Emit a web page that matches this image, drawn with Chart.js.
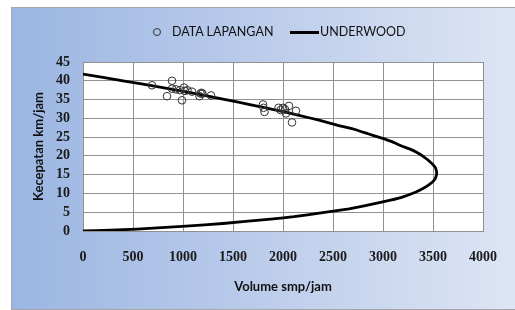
<!DOCTYPE html>
<html>
<head>
<meta charset="utf-8">
<script src="https://cdn.jsdelivr.net/npm/chart.js@4.4.0/dist/chart.umd.min.js"></script>
<style>
  html, body { margin: 0; padding: 0; background: #ffffff; }
  body { width: 515px; height: 310px; position: relative; overflow: hidden; }
  #frame {
    position: absolute; left: 11px; top: 7px; width: 520px; height: 301px;
    border: 1px solid #a6a6a6;
    background: linear-gradient(to right, #9bb6e2 0%, #bdcdeb 50%, #e0e7f5 100%);
  }
  #wrap { position: absolute; left: 0; top: 0; width: 515px; height: 310px; }
  #legend {
    position: absolute; left: 0; top: 24px; width: 515px; height: 18px;
    font-family: Lato, "Noto Sans", sans-serif; font-size: 12.5px; color: #111;
  }
  #legend span { position: absolute; top: 0; line-height: 16px; }
  .mark-circle {
    position: absolute; width: 8px; height: 8px; border: 1px solid #333;
    border-radius: 50%; box-sizing: border-box;
  }
  .mark-line { position: absolute; height: 3px; background: #000; }
</style>
</head>
<body>
<div id="frame"></div>
<div id="wrap"><canvas id="chart" width="515" height="310"></canvas></div>
<div id="legend">
  <div class="mark-circle" style="left:153px; top:4px;"></div>
  <span style="left:172px;">DATA LAPANGAN</span>
  <div class="mark-line" style="left:290px; top:7px; width:29px;"></div>
  <span style="left:320px;">UNDERWOOD</span>
</div>
<script>
// field data (volume smp/jam, kecepatan km/jam)
const dataVolume = [690, 840, 890, 890, 930, 970, 990, 1010, 1020, 1045, 1090, 1165, 1175, 1185, 1195, 1280,
  1800, 1805, 1815, 1955, 1975, 2000, 2020, 2030, 2060, 2090, 2130];
const dataSpeed = [38.8, 35.9, 40.0, 37.9, 37.7, 37.5, 34.8, 38.2, 37.3, 37.5, 37.1, 35.9, 36.6, 36.8, 36.6, 36.1,
  33.7, 32.8, 31.7, 32.8, 32.2, 32.8, 32.4, 31.3, 33.3, 28.9, 32.0];

// underwood curve, upper branch -> nose -> lower branch
const curveVolume = [0, 400, 770, 1100, 1400, 1680, 1930, 2160, 2360, 2540, 2710, 2850, 2980, 3090, 3180, 3270,
  3340, 3395, 3440, 3475, 3505, 3525, 3533, 3537, 3529, 3510, 3465, 3400, 3330, 3200, 3075, 2940, 2660, 2380,
  2110, 1850, 1400, 1030, 540, 270, 0];
const curveSpeed = [41.8, 40.0, 38.3, 36.7, 35.1, 33.6, 32.2, 30.8, 29.5, 28.2, 27.1, 25.9, 24.8, 23.8, 22.7, 21.8,
  20.9, 20.0, 19.1, 18.3, 17.5, 16.8, 16.1, 15.4, 14.4, 13.5, 12.4, 11.3, 10.4, 9.1, 8.2, 7.4, 5.9, 4.8,
  3.8, 3.1, 2.0, 1.3, 0.5, 0.2, 0];

const xTicks = [0, 500, 1000, 1500, 2000, 2500, 3000, 3500, 4000];
const yTicks = [0, 5, 10, 15, 20, 25, 30, 35, 40, 45];

const fieldPoints = dataVolume.map((v, i) => ({ x: v, y: dataSpeed[i] }));
const curvePoints = curveVolume.map((v, i) => ({ x: v, y: curveSpeed[i] }));

const plotBackground = {
  id: "plotBackground",
  beforeDraw(chart) {
    const { ctx, chartArea } = chart;
    ctx.save();
    ctx.fillStyle = "#ffffff";
    ctx.fillRect(chartArea.left, chartArea.top, chartArea.right - chartArea.left, chartArea.bottom - chartArea.top);
    ctx.restore();
  },
};

const tickFont = { family: "'Liberation Serif', serif", size: 14, weight: "bold" };
const titleFont = { family: "Lato, 'Noto Sans', sans-serif", size: 13, weight: "bold" };

const ctx = document.getElementById("chart").getContext("2d");
const graph = new Chart(ctx, {
  type: "scatter",
  data: {
    datasets: [
      {
        label: "DATA LAPANGAN",
        data: fieldPoints,
        pointStyle: "circle",
        pointRadius: 3.8,
        pointBorderWidth: 1,
        pointBorderColor: "#333333",
        pointBackgroundColor: "rgba(0,0,0,0)",
        showLine: false,
        order: 1,
      },
      {
        label: "UNDERWOOD",
        data: curvePoints,
        showLine: true,
        borderColor: "#000000",
        borderWidth: 2.8,
        borderJoinStyle: "round",
        pointRadius: 0,
        tension: 0.1,
        fill: false,
        order: 2,
      },
    ],
  },
  options: {
    responsive: false,
    animation: false,
    layout: { padding: { top: 62, right: 18, bottom: 0, left: 0 } },
    plugins: {
      legend: { display: false },
      tooltip: { enabled: false },
    },
    scales: {
      x: {
        type: "linear",
        min: 0,
        max: 4000,
        afterBuildTicks: (scale) => { scale.ticks = xTicks.map((v) => ({ value: v })); },
        afterFit: (scale) => { scale.height = 79; },
        ticks: { font: tickFont, color: "#1a1a1a", padding: 18, maxRotation: 0, autoSkip: false, callback: (v) => String(v) },
        grid: { color: "#909090", lineWidth: 1, drawTicks: false },
        border: { color: "#909090" },
        title: { display: true, text: "Volume smp/jam", font: titleFont, color: "#111111", padding: { top: 4, bottom: 15 } },
      },
      y: {
        type: "linear",
        min: 0,
        max: 45,
        afterBuildTicks: (scale) => { scale.ticks = yTicks.map((v) => ({ value: v })); },
        afterFit: (scale) => { scale.width = 83; },
        ticks: { font: tickFont, color: "#1a1a1a", padding: 13, autoSkip: false, callback: (v) => String(v) },
        grid: { color: "#909090", lineWidth: 1, drawTicks: false },
        border: { color: "#909090" },
        title: { display: true, text: "Kecepatan km/jam", font: titleFont, color: "#111111", padding: { top: 31, bottom: 0 } },
      },
    },
  },
  plugins: [plotBackground],
});
</script>
</body>
</html>
